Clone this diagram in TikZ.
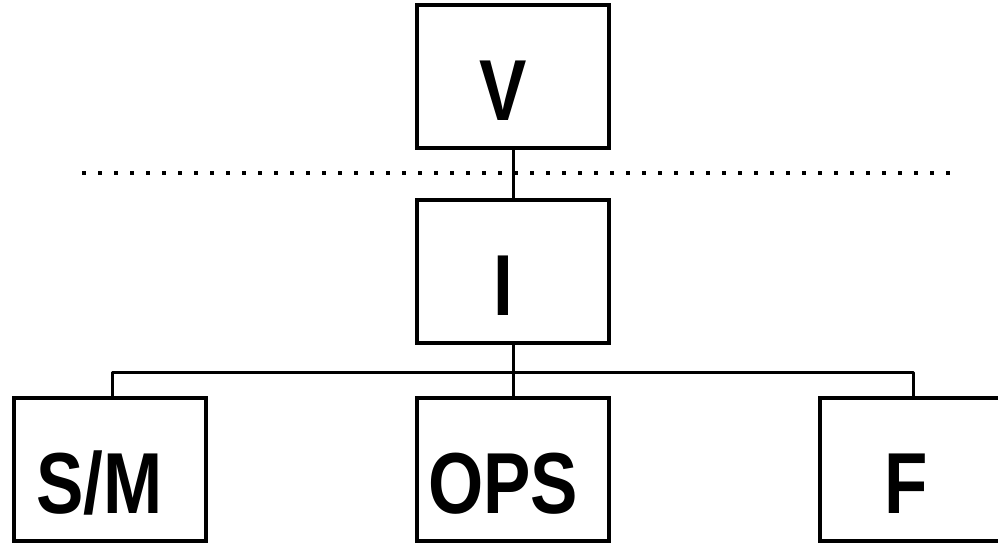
\documentclass[tikz,border=0pt]{standalone}
\usepackage{fontspec}
\setmainfont{Liberation Sans}[FakeStretch=0.82]
\begin{document}
\begin{tikzpicture}[x=1pt,y=-1pt,
  unit/.style={draw=black,line width=4pt,minimum width=192pt,minimum height=143pt,inner sep=0pt},
  unitname/.style={anchor=base,inner sep=0pt,font=\fontsize{86.6}{90}\selectfont\bfseries},
  link/.style={draw=black,line width=3pt,line join=round},
  boundary/.style={draw=black,line width=4pt,line cap=butt,dash pattern=on 4pt off 12pt}]
  \useasboundingbox (0,0) rectangle (998,543);
  \clip (0,0) rectangle (998,543);

  % boxes of the chart
  \node[unit] (v)   at (513,76.5)  {};
  \node[unit] (i)   at (513,271.5) {};
  \node[unit] (sm)  at (109.5,469.5) {};
  \node[unit] (ops) at (513,469.5) {};
  \node[unit] (f)   at (916,469.5) {};

  % their names
  \node[unitname] (vt)   at ([shift={(-10,44)}]v.center)   {V};
  \node[unitname] (it)   at ([shift={(-10,44)}]i.center)   {I};
  \node[unitname] (smt)  at ([shift={(-10,44)}]sm.center)  {S/M};
  \node[unitname] (opst) at ([shift={(-10,44)}]ops.center) {OPS};
  \node[unitname] (ft)   at ([shift={(-10,44)}]f.center)   {F};

  % dotted separator
  \coordinate (sepl) at (82,173);
  \coordinate (sepr) at (952,173);
  \draw[boundary] (sepl) -- (sepr);

  % connectors
  \coordinate (bus) at (513,372);
  \draw[link] (v.south) -- (i.south |- i.north);
  \draw[link] (i.south) -- (ops.north);
  \draw[link] ([xshift=3pt]sm.north) |- (bus) -| ([xshift=-3pt]f.north);
\end{tikzpicture}
\end{document}
